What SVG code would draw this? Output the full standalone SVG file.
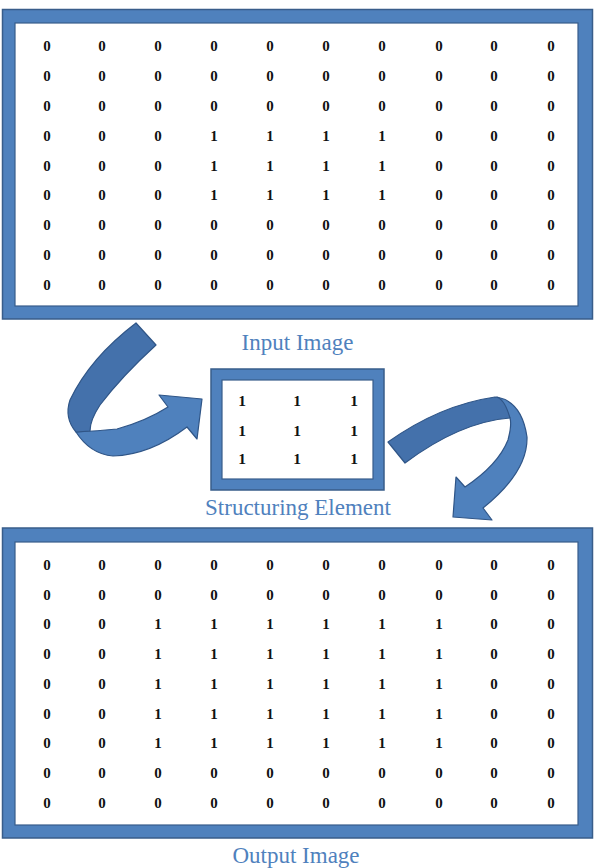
<svg xmlns="http://www.w3.org/2000/svg" width="595" height="868" viewBox="0 0 595 868">
<style>
.frame{fill:#4F81BD;stroke:#385D8A;stroke-width:1.5}
.inner{fill:#ffffff;stroke:#385D8A;stroke-width:1.2}
.d{font-family:"Liberation Serif","Times New Roman",serif;font-weight:bold;font-size:15px;text-anchor:middle;fill:#111}
.s{font-family:"Liberation Serif","Times New Roman",serif;font-weight:bold;font-size:15.5px;text-anchor:middle;fill:#111}
.lbl{font-family:"Liberation Serif","Times New Roman",serif;font-size:23px;text-anchor:middle;fill:#4F81BD}
.dark{fill:#4471AB;stroke:#2F5587;stroke-width:1.2;stroke-linejoin:round}
.light{fill:#4F81BD;stroke:#2F5587;stroke-width:1.2;stroke-linejoin:round}
</style>
<rect width="595" height="868" fill="#ffffff"/>
<g id="input-image">
<rect class="frame" x="2.5" y="9.5" width="590" height="309.5"/>
<rect class="inner" x="15" y="23" width="563" height="283"/>
<g class="d">
<text x="47" y="51">0</text><text x="102" y="51">0</text><text x="158" y="51">0</text><text x="214" y="51">0</text><text x="270" y="51">0</text><text x="326" y="51">0</text><text x="382" y="51">0</text><text x="439" y="51">0</text><text x="494" y="51">0</text><text x="551" y="51">0</text>
<text x="47" y="81">0</text><text x="102" y="81">0</text><text x="158" y="81">0</text><text x="214" y="81">0</text><text x="270" y="81">0</text><text x="326" y="81">0</text><text x="382" y="81">0</text><text x="439" y="81">0</text><text x="494" y="81">0</text><text x="551" y="81">0</text>
<text x="47" y="111">0</text><text x="102" y="111">0</text><text x="158" y="111">0</text><text x="214" y="111">0</text><text x="270" y="111">0</text><text x="326" y="111">0</text><text x="382" y="111">0</text><text x="439" y="111">0</text><text x="494" y="111">0</text><text x="551" y="111">0</text>
<text x="47" y="141">0</text><text x="102" y="141">0</text><text x="158" y="141">0</text><text x="214" y="141">1</text><text x="270" y="141">1</text><text x="326" y="141">1</text><text x="382" y="141">1</text><text x="439" y="141">0</text><text x="494" y="141">0</text><text x="551" y="141">0</text>
<text x="47" y="171">0</text><text x="102" y="171">0</text><text x="158" y="171">0</text><text x="214" y="171">1</text><text x="270" y="171">1</text><text x="326" y="171">1</text><text x="382" y="171">1</text><text x="439" y="171">0</text><text x="494" y="171">0</text><text x="551" y="171">0</text>
<text x="47" y="200">0</text><text x="102" y="200">0</text><text x="158" y="200">0</text><text x="214" y="200">1</text><text x="270" y="200">1</text><text x="326" y="200">1</text><text x="382" y="200">1</text><text x="439" y="200">0</text><text x="494" y="200">0</text><text x="551" y="200">0</text>
<text x="47" y="230">0</text><text x="102" y="230">0</text><text x="158" y="230">0</text><text x="214" y="230">0</text><text x="270" y="230">0</text><text x="326" y="230">0</text><text x="382" y="230">0</text><text x="439" y="230">0</text><text x="494" y="230">0</text><text x="551" y="230">0</text>
<text x="47" y="260">0</text><text x="102" y="260">0</text><text x="158" y="260">0</text><text x="214" y="260">0</text><text x="270" y="260">0</text><text x="326" y="260">0</text><text x="382" y="260">0</text><text x="439" y="260">0</text><text x="494" y="260">0</text><text x="551" y="260">0</text>
<text x="47" y="290">0</text><text x="102" y="290">0</text><text x="158" y="290">0</text><text x="214" y="290">0</text><text x="270" y="290">0</text><text x="326" y="290">0</text><text x="382" y="290">0</text><text x="439" y="290">0</text><text x="494" y="290">0</text><text x="551" y="290">0</text>
</g>
<text class="lbl" x="297.5" y="350">Input Image</text>
</g>
<g id="structuring-element">
<rect class="frame" x="211" y="369" width="173" height="121"/>
<rect class="inner" x="222" y="380" width="151" height="99"/>
<g class="s">
<text x="242" y="406">1</text><text x="297" y="406">1</text><text x="354" y="406">1</text>
<text x="242" y="436">1</text><text x="297" y="436">1</text><text x="354" y="436">1</text>
<text x="242" y="464">1</text><text x="297" y="464">1</text><text x="354" y="464">1</text>
</g>
<text class="lbl" x="298" y="515">Structuring Element</text>
</g>
<g id="output-image">
<rect class="frame" x="2.5" y="528" width="590" height="310"/>
<rect class="inner" x="15" y="542" width="563" height="283"/>
<g class="d">
<text x="47" y="570">0</text><text x="102" y="570">0</text><text x="158" y="570">0</text><text x="214" y="570">0</text><text x="270" y="570">0</text><text x="326" y="570">0</text><text x="382" y="570">0</text><text x="439" y="570">0</text><text x="494" y="570">0</text><text x="551" y="570">0</text>
<text x="47" y="600">0</text><text x="102" y="600">0</text><text x="158" y="600">0</text><text x="214" y="600">0</text><text x="270" y="600">0</text><text x="326" y="600">0</text><text x="382" y="600">0</text><text x="439" y="600">0</text><text x="494" y="600">0</text><text x="551" y="600">0</text>
<text x="47" y="629">0</text><text x="102" y="629">0</text><text x="158" y="629">1</text><text x="214" y="629">1</text><text x="270" y="629">1</text><text x="326" y="629">1</text><text x="382" y="629">1</text><text x="439" y="629">1</text><text x="494" y="629">0</text><text x="551" y="629">0</text>
<text x="47" y="659">0</text><text x="102" y="659">0</text><text x="158" y="659">1</text><text x="214" y="659">1</text><text x="270" y="659">1</text><text x="326" y="659">1</text><text x="382" y="659">1</text><text x="439" y="659">1</text><text x="494" y="659">0</text><text x="551" y="659">0</text>
<text x="47" y="689">0</text><text x="102" y="689">0</text><text x="158" y="689">1</text><text x="214" y="689">1</text><text x="270" y="689">1</text><text x="326" y="689">1</text><text x="382" y="689">1</text><text x="439" y="689">1</text><text x="494" y="689">0</text><text x="551" y="689">0</text>
<text x="47" y="719">0</text><text x="102" y="719">0</text><text x="158" y="719">1</text><text x="214" y="719">1</text><text x="270" y="719">1</text><text x="326" y="719">1</text><text x="382" y="719">1</text><text x="439" y="719">1</text><text x="494" y="719">0</text><text x="551" y="719">0</text>
<text x="47" y="748">0</text><text x="102" y="748">0</text><text x="158" y="748">1</text><text x="214" y="748">1</text><text x="270" y="748">1</text><text x="326" y="748">1</text><text x="382" y="748">1</text><text x="439" y="748">1</text><text x="494" y="748">0</text><text x="551" y="748">0</text>
<text x="47" y="778">0</text><text x="102" y="778">0</text><text x="158" y="778">0</text><text x="214" y="778">0</text><text x="270" y="778">0</text><text x="326" y="778">0</text><text x="382" y="778">0</text><text x="439" y="778">0</text><text x="494" y="778">0</text><text x="551" y="778">0</text>
<text x="47" y="808">0</text><text x="102" y="808">0</text><text x="158" y="808">0</text><text x="214" y="808">0</text><text x="270" y="808">0</text><text x="326" y="808">0</text><text x="382" y="808">0</text><text x="439" y="808">0</text><text x="494" y="808">0</text><text x="551" y="808">0</text>
</g>
<text class="lbl" x="296" y="863">Output Image</text>
</g>
<g id="connectors">
<g id="arrow-left">
<path class="light" d="M76,432 Q98,431 117,429 Q146,421 168,407 L159,395 L202,399 L197,439 L187,427 Q150,455 113,456 Q90,454 76,432 Z"/>
<path class="dark" d="M136,323 L156,345 Q122,376 100,405 Q90,420 90,431 L76,432 Q64,418 70,400 Q90,358 136,323 Z"/>
</g>
<g id="arrow-right">
<path class="light" d="M497,397 Q522,402 527,437 Q528,472 483,508 L492,520 L453,517 L456,477 L465,487 Q498,465 508,440 Q512,425 510,418 Z"/>
<path class="dark" d="M388,442 Q440,405 495,397 Q504,397 510,418 Q460,422 405,463 Z"/>
</g>
</g>
</svg>
